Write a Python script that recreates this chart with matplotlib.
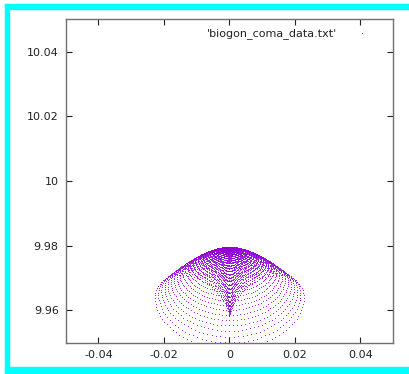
import numpy as np
import matplotlib.pyplot as plt
from matplotlib.patches import Rectangle

plt.rcParams['axes.unicode_minus'] = False

# spot diagram: pupil rings traced through the lens (astigmatism + coma)
pupil_rho = np.linspace(1 / 30, 1.0, 30)
pupil_phi = np.linspace(0, 2 * np.pi, 144, endpoint=False)
chief_y = 9.9794      # chief ray height
astig_x = 0.0175      # sagittal focus term
astig_y = 0.0050      # tangential focus term
coma = 0.00875        # coma term

x_ticks = [-0.04, -0.02, 0, 0.02, 0.04]
x_labels = ['-0.04', '-0.02', '0', '0.02', '0.04']
y_ticks = [9.96, 9.98, 10.0, 10.02, 10.04]
y_labels = ['9.96', '9.98', '10', '10.02', '10.04']

R, P = np.meshgrid(pupil_rho, pupil_phi)
spot_x = astig_x * R * np.sin(P) - coma * R**2 * np.sin(2 * P)
spot_y = chief_y + astig_y * R * np.cos(P) - coma * R**2 * (2 + np.cos(2 * P))

fig = plt.figure(figsize=(4.09, 3.74), dpi=100)
ax = fig.add_axes([0.1606, 0.0837, 0.8003, 0.8642])
ax.plot(spot_x.ravel(), spot_y.ravel(), 'o', color='#9400d3', markersize=0.75, mew=0)

ax.set_xlim(-0.05, 0.05)
ax.set_ylim(9.95, 10.05)
ax.set_xticks(x_ticks)
ax.set_xticklabels(x_labels)
ax.set_yticks(y_ticks)
ax.set_yticklabels(y_labels)
ax.tick_params(direction='in', top=True, right=True, length=4.5, width=0.8,
               labelsize=8, colors='#222222', pad=5)
for s in ax.spines.values():
    s.set_color('#707070')
    s.set_linewidth(1.0)

# key
ax.text(0.829, 0.958, "'biogon_coma_data.txt'", transform=ax.transAxes,
        ha='right', va='center', fontsize=8, color='#222222')
ax.plot([0.905], [0.958], 'o', color='#9400d3', markersize=0.75, mew=0,
        transform=ax.transAxes)

# cyan frame
for (x0, y0, w, h) in [(5, 0, 4, 370), (5, 365, 404, 5), (5, 1, 404, 6)]:
    fig.patches.append(Rectangle((x0 / 409, y0 / 374), w / 409, h / 374,
                                 transform=fig.transFigure, color='#00ffff', zorder=0))

fig.savefig('out.png', dpi=100)
